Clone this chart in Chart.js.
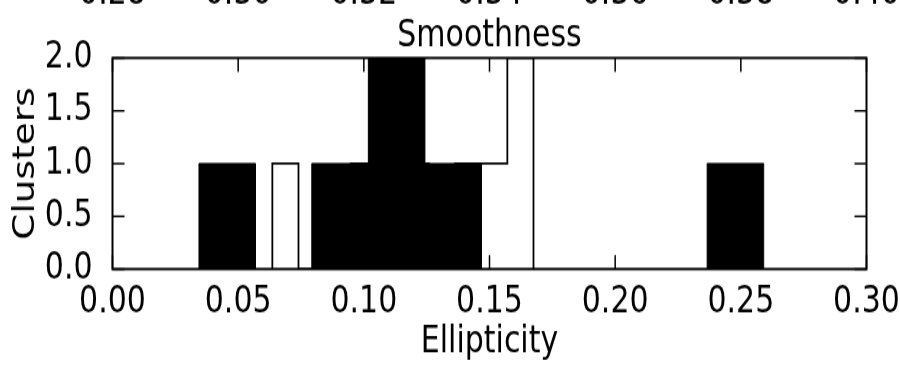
<!DOCTYPE html>
<html>
<head>
<meta charset="utf-8">
<script src="https://cdn.jsdelivr.net/npm/chart.js@4.4.1/dist/chart.umd.min.js"></script>
<style>
  html, body { margin: 0; padding: 0; background: #fff; overflow: hidden; }
  #wrap { width: 900px; height: 366px; }
  /* the source figure is stretched vertically; draw at 900x293 and stretch to 366 */
  #histChart { transform: scaleY(1.2491); transform-origin: 0 0; }
</style>
</head>
<body>
<div id="wrap"><canvas id="histChart" width="900" height="293"></canvas></div>
<script>
// black (filled) histogram: bin edges and counts
const filledEdges = [0.0344, 0.0569, 0.0793, 0.1018, 0.1243, 0.1468, 0.1692, 0.1917, 0.2142, 0.2366, 0.2591];
const filledCounts = [1, 0, 1, 2, 1, 0, 0, 0, 0, 1];

// outlined (step) histogram
const stepEdges = [0.0636, 0.0740, 0.0844, 0.0948, 0.1052, 0.1155, 0.1259, 0.1363, 0.1467, 0.1571, 0.1675];
const stepCounts = [1, 0, 0, 1, 2, 1, 0, 1, 1, 2];

// tick labels of the panel above, only their lower part shows
const upperTicks = [0.28, 0.30, 0.32, 0.34, 0.36, 0.38, 0.40];

const FONT = 'DejaVu Sans';
Chart.defaults.font.family = FONT;
Chart.defaults.color = '#000';

function stepPoints(edges, counts) {
  const pts = [{ x: edges[0], y: 0 }];
  counts.forEach((c, i) => pts.push({ x: edges[i], y: c }));
  pts.push({ x: edges[edges.length - 1], y: 0 });
  return pts;
}

// frame, inward ticks on all sides, and the cut-off labels at the top
const framePlugin = {
  id: 'frame',
  afterDatasetsDraw(chart) {
    const { ctx, chartArea: a, scales } = chart;
    ctx.save();
    ctx.strokeStyle = '#000';
    ctx.lineWidth = 1.5;
    ctx.beginPath();
    scales.x.ticks.forEach(t => {
      const px = scales.x.getPixelForValue(t.value);
      ctx.moveTo(px, a.bottom); ctx.lineTo(px, a.bottom - 11.2);
      ctx.moveTo(px, a.top); ctx.lineTo(px, a.top + 11.2);
    });
    scales.y.ticks.forEach(t => {
      const py = scales.y.getPixelForValue(t.value);
      ctx.moveTo(a.left, py); ctx.lineTo(a.left + 12, py);
      ctx.moveTo(a.right, py); ctx.lineTo(a.right - 12, py);
    });
    ctx.stroke();
    ctx.lineWidth = 2;
    ctx.strokeRect(a.left, a.top, a.right - a.left, a.bottom - a.top);

    ctx.fillStyle = '#000';
    ctx.font = '30px "' + FONT + '"';
    ctx.textAlign = 'center';
    ctx.textBaseline = 'alphabetic';
    upperTicks.forEach(v => {
      ctx.fillText(v.toFixed(2), scales.xTop.getPixelForValue(v), 3.2);
    });
    ctx.restore();
  }
};

new Chart(document.getElementById('histChart'), {
  type: 'line',
  data: {
    datasets: [
      {
        label: 'outline',
        data: stepPoints(stepEdges, stepCounts),
        stepped: true,
        fill: false,
        borderColor: '#000',
        borderWidth: 1.8,
        pointRadius: 0,
        order: 2
      },
      {
        label: 'filled',
        data: stepPoints(filledEdges, filledCounts),
        stepped: true,
        fill: 'origin',
        backgroundColor: '#000',
        borderColor: '#000',
        borderWidth: 1,
        pointRadius: 0,
        order: 1
      }
    ]
  },
  options: {
    responsive: false,
    animation: false,
    events: [],
    layout: { padding: { left: 0, right: 33.5, top: 0, bottom: 0 } },
    plugins: {
      legend: { display: false },
      tooltip: { enabled: false },
      title: {
        display: true,
        text: 'Smoothness',
        fullSize: false,
        color: '#000',
        font: { size: 30, weight: 'normal', lineHeight: 1.0 },
        padding: { top: 14, bottom: 2.4 }
      }
    },
    scales: {
      x: {
        type: 'linear',
        min: 0,
        max: 0.3,
        grid: { display: false },
        border: { display: false },
        ticks: {
          stepSize: 0.05,
          maxRotation: 0,
          padding: 0.5,
          font: { size: 30 },
          callback: v => v.toFixed(2)
        },
        title: {
          display: true,
          text: 'Ellipticity',
          font: { size: 30 },
          padding: { top: 0, bottom: 0.8 }
        },
        afterFit(s) { s.height = 77.6; s.paddingLeft = 0; s.paddingRight = 0; }
      },
      xTop: {
        type: 'linear',
        axis: 'x',
        position: 'top',
        min: 0.28,
        max: 0.40,
        display: false
      },
      y: {
        min: 0,
        max: 2,
        grid: { display: false },
        border: { display: false },
        ticks: {
          stepSize: 0.5,
          padding: 12,
          font: { size: 30 },
          callback: v => v.toFixed(1)
        },
        title: {
          display: true,
          text: 'Clusters',
          font: { size: 30 },
          padding: { top: 8.5, bottom: 0 }
        },
        afterFit(s) { s.width = 112.5; s.paddingTop = 0; s.paddingBottom = 0; }
      }
    }
  },
  plugins: [framePlugin]
});
</script>
</body>
</html>
